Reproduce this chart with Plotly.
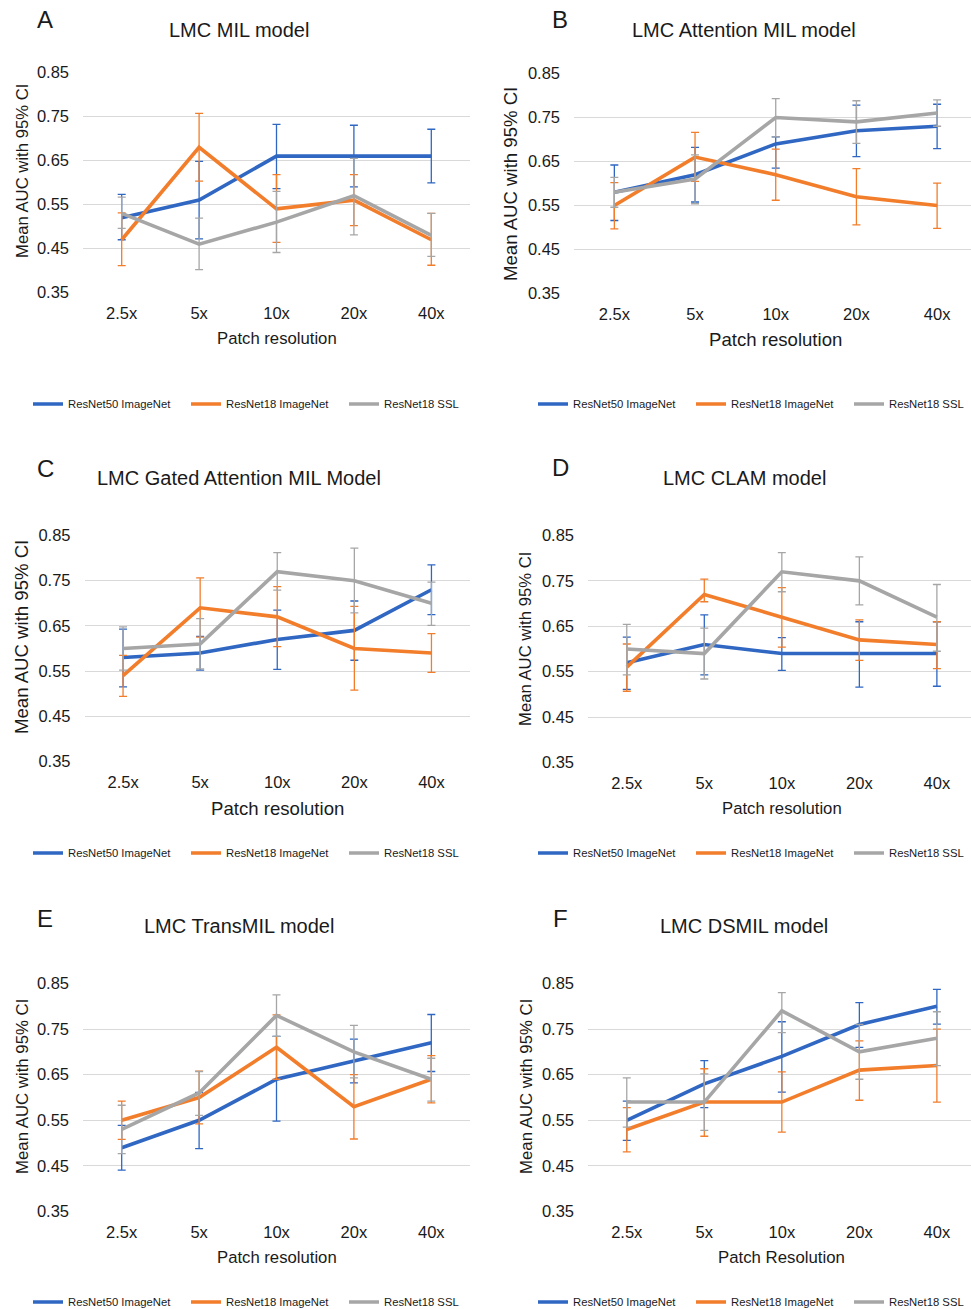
import plotly.graph_objects as go

RES = ["2.5x", "5x", "10x", "20x", "40x"]
SERIES = ["ResNet50 ImageNet", "ResNet18 ImageNet", "ResNet18 SSL"]
COLORS = ["#2F67C3", "#F27D2B", "#A6A6A6"]

# Panel A - LMC MIL model
A_R50 = [0.52, 0.56, 0.66, 0.66, 0.66]
A_R50_HI = [0.573, 0.648, 0.732, 0.730, 0.721]
A_R50_LO = [0.470, 0.472, 0.586, 0.590, 0.599]
A_R18 = [0.47, 0.68, 0.54, 0.56, 0.47]
A_R18_HI = [0.531, 0.757, 0.618, 0.618, 0.530]
A_R18_LO = [0.411, 0.603, 0.464, 0.502, 0.412]
A_SSL = [0.53, 0.46, 0.51, 0.57, 0.48]
A_SSL_HI = [0.567, 0.519, 0.580, 0.655, 0.530]
A_SSL_LO = [0.496, 0.402, 0.441, 0.481, 0.432]

# Panel B - LMC Attention MIL model
B_R50 = [0.58, 0.62, 0.69, 0.72, 0.73]
B_R50_HI = [0.642, 0.682, 0.706, 0.778, 0.780]
B_R50_LO = [0.516, 0.558, 0.635, 0.661, 0.679]
B_R18 = [0.55, 0.66, 0.62, 0.57, 0.55]
B_R18_HI = [0.602, 0.716, 0.678, 0.634, 0.601]
B_R18_LO = [0.497, 0.605, 0.562, 0.506, 0.498]
B_SSL = [0.58, 0.61, 0.75, 0.74, 0.76]
B_SSL_HI = [0.614, 0.665, 0.793, 0.788, 0.790]
B_SSL_LO = [0.546, 0.554, 0.706, 0.691, 0.730]

# Panel C - LMC Gated Attention MIL Model
C_R50 = [0.58, 0.59, 0.62, 0.64, 0.73]
C_R50_HI = [0.643, 0.627, 0.685, 0.705, 0.785]
C_R50_LO = [0.515, 0.552, 0.554, 0.574, 0.675]
C_R18 = [0.54, 0.69, 0.67, 0.60, 0.59]
C_R18_HI = [0.585, 0.756, 0.737, 0.693, 0.633]
C_R18_LO = [0.494, 0.625, 0.604, 0.508, 0.547]
C_SSL = [0.60, 0.61, 0.77, 0.75, 0.70]
C_SSL_HI = [0.648, 0.666, 0.812, 0.822, 0.747]
C_SSL_LO = [0.552, 0.555, 0.729, 0.679, 0.651]

# Panel D - LMC CLAM model
D_R50 = [0.57, 0.61, 0.59, 0.59, 0.59]
D_R50_HI = [0.626, 0.675, 0.625, 0.660, 0.660]
D_R50_LO = [0.511, 0.543, 0.553, 0.516, 0.518]
D_R18 = [0.56, 0.72, 0.67, 0.62, 0.61]
D_R18_HI = [0.611, 0.754, 0.735, 0.664, 0.660]
D_R18_LO = [0.507, 0.704, 0.604, 0.575, 0.557]
D_SSL = [0.60, 0.59, 0.77, 0.75, 0.67]
D_SSL_HI = [0.654, 0.646, 0.812, 0.803, 0.742]
D_SSL_LO = [0.543, 0.534, 0.726, 0.697, 0.595]

# Panel E - LMC TransMIL model
E_R50 = [0.49, 0.55, 0.64, 0.68, 0.72]
E_R50_HI = [0.539, 0.611, 0.734, 0.728, 0.782]
E_R50_LO = [0.441, 0.488, 0.548, 0.632, 0.657]
E_R18 = [0.55, 0.60, 0.71, 0.58, 0.64]
E_R18_HI = [0.592, 0.658, 0.781, 0.650, 0.692]
E_R18_LO = [0.508, 0.542, 0.640, 0.509, 0.588]
E_SSL = [0.53, 0.61, 0.78, 0.70, 0.64]
E_SSL_HI = [0.583, 0.657, 0.825, 0.758, 0.686]
E_SSL_LO = [0.477, 0.561, 0.734, 0.643, 0.592]

# Panel F - LMC DSMIL model
F_R50 = [0.55, 0.63, 0.69, 0.76, 0.80]
F_R50_HI = [0.592, 0.681, 0.766, 0.808, 0.837]
F_R50_LO = [0.506, 0.578, 0.612, 0.710, 0.761]
F_R18 = [0.53, 0.59, 0.59, 0.66, 0.67]
F_R18_HI = [0.578, 0.663, 0.656, 0.724, 0.750]
F_R18_LO = [0.481, 0.515, 0.524, 0.594, 0.590]
F_SSL = [0.59, 0.59, 0.79, 0.70, 0.73]
F_SSL_HI = [0.643, 0.652, 0.830, 0.760, 0.788]
F_SSL_LO = [0.535, 0.528, 0.742, 0.640, 0.670]

Y_TICKS = [0.35, 0.45, 0.55, 0.65, 0.75, 0.85]
Y_LABEL = "Mean AUC with 95% CI"

W, H = 971, 1309
FONT = "Arial, 'Liberation Sans', sans-serif"
TXT = "#1a1a1a"

panels = [
    dict(letter="A", title="LMC MIL model", xlab="Patch resolution",
         data=[(A_R50, A_R50_HI, A_R50_LO), (A_R18, A_R18_HI, A_R18_LO), (A_SSL, A_SSL_HI, A_SSL_LO)],
         x0=83, x1=470, xr=4.5, ytop=72, ybot=293, title_xy=(239, 30), letter_xy=(45, 20),
         ytitle_xy=(22, 171), ysz=16.7, xtitle_y=338, xsz=16.7, leg_xy=(28, 404)),
    dict(letter="B", title="LMC Attention MIL model", xlab="Patch resolution",
         data=[(B_R50, B_R50_HI, B_R50_LO), (B_R18, B_R18_HI, B_R18_LO), (B_SSL, B_SSL_HI, B_SSL_LO)],
         x0=574, x1=971, xr=4.42, ytop=73, ybot=294, title_xy=(744, 30), letter_xy=(560, 20),
         ytitle_xy=(511, 184), ysz=18.6, xtitle_y=340, xsz=18.6, leg_xy=(533, 404)),
    dict(letter="C", title="LMC Gated Attention MIL Model", xlab="Patch resolution",
         data=[(C_R50, C_R50_HI, C_R50_LO), (C_R18, C_R18_HI, C_R18_LO), (C_SSL, C_SSL_HI, C_SSL_LO)],
         x0=84.5, x1=470, xr=4.5, ytop=535, ybot=762, title_xy=(239, 478), letter_xy=(45, 468),
         ytitle_xy=(22, 637), ysz=18.6, xtitle_y=808, xsz=18.6, leg_xy=(28, 853)),
    dict(letter="D", title="LMC CLAM model", xlab="Patch resolution",
         data=[(D_R50, D_R50_HI, D_R50_LO), (D_R18, D_R18_HI, D_R18_LO), (D_SSL, D_SSL_HI, D_SSL_LO)],
         x0=588, x1=971, xr=4.44, ytop=535, ybot=763, title_xy=(744, 478), letter_xy=(560, 467),
         ytitle_xy=(526, 639), ysz=16.7, xtitle_y=808, xsz=16.7, leg_xy=(533, 853)),
    dict(letter="E", title="LMC TransMIL model", xlab="Patch resolution",
         data=[(E_R50, E_R50_HI, E_R50_LO), (E_R18, E_R18_HI, E_R18_LO), (E_SSL, E_SSL_HI, E_SSL_LO)],
         x0=83, x1=470, xr=4.5, ytop=983, ybot=1212, title_xy=(239, 926), letter_xy=(45, 918),
         ytitle_xy=(22, 1087), ysz=16.8, xtitle_y=1257, xsz=16.7, leg_xy=(28, 1302)),
    dict(letter="F", title="LMC DSMIL model", xlab="Patch Resolution",
         data=[(F_R50, F_R50_HI, F_R50_LO), (F_R18, F_R18_HI, F_R18_LO), (F_SSL, F_SSL_HI, F_SSL_LO)],
         x0=588, x1=971, xr=4.44, ytop=983, ybot=1212, title_xy=(744, 926), letter_xy=(560, 918),
         ytitle_xy=(526, 1087), ysz=16.8, xtitle_y=1257, xsz=16.8, leg_xy=(533, 1302)),
]

fig = go.Figure()
annotations = []
layout = {}


def px(x):
    return x / W


def py(y):
    return 1 - y / H


xs = list(range(len(RES)))
for i, p in enumerate(panels, start=1):
    sfx = "" if i == 1 else str(i)
    leg = "legend" if i == 1 else f"legend{i}"
    for k, ((mean, hi, lo), name, col) in enumerate(zip(p["data"], SERIES, COLORS)):
        up = [h - m for h, m in zip(hi, mean)]
        dn = [m - l for m, l in zip(mean, lo)]
        tr = dict(
            x=xs, y=mean, mode="lines", name=name,
            line=dict(color=col, width=3.6),
            error_y=dict(type="data", symmetric=False, array=up, arrayminus=dn,
                         color=col, thickness=1.3, width=4),
            xaxis="x" + sfx, yaxis="y" + sfx, legend=leg, showlegend=True,
        )
        if k < 2:
            tr["legendwidth"] = 113
        fig.add_trace(go.Scatter(**tr))
    layout["xaxis" + sfx] = dict(
        domain=[px(p["x0"]), px(p["x1"])], range=[-0.5, p["xr"]],
        tickmode="array", tickvals=xs, ticktext=RES, showgrid=False,
        zeroline=False, showline=False, ticks="", ticklabelstandoff=8,
        tickfont=dict(size=16.5, color=TXT, family=FONT),
        anchor="y" + sfx, fixedrange=True)
    layout["yaxis" + sfx] = dict(
        domain=[py(p["ybot"]), py(p["ytop"])], range=[0.349, 0.851],
        tickmode="array", tickvals=Y_TICKS, ticktext=[f"{v:.2f}" for v in Y_TICKS],
        showgrid=True, gridcolor="#D9D9D9", gridwidth=1.2, zeroline=False,
        showline=False, ticks="", ticklabelstandoff=13,
        tickfont=dict(size=16.5, color=TXT, family=FONT),
        anchor="x" + sfx, fixedrange=True)
    layout[leg] = dict(
        orientation="h", x=px(p["leg_xy"][0]), y=py(p["leg_xy"][1]),
        xanchor="left", yanchor="middle", xref="paper", yref="paper",
        font=dict(size=11.3, color=TXT, family=FONT), bgcolor="rgba(0,0,0,0)",
        itemclick=False, itemdoubleclick=False, tracegroupgap=0)
    annotations.append(dict(text=p["title"], x=px(p["title_xy"][0]), y=py(p["title_xy"][1]),
                            xref="paper", yref="paper", showarrow=False,
                            xanchor="center", yanchor="middle",
                            font=dict(size=20, color=TXT, family=FONT)))
    annotations.append(dict(text=p["letter"], x=px(p["letter_xy"][0]), y=py(p["letter_xy"][1]),
                            xref="paper", yref="paper", showarrow=False,
                            xanchor="center", yanchor="middle",
                            font=dict(size=24, color=TXT, family=FONT)))
    annotations.append(dict(text=Y_LABEL, x=px(p["ytitle_xy"][0]), y=py(p["ytitle_xy"][1]),
                            xref="paper", yref="paper", showarrow=False, textangle=-90,
                            xanchor="center", yanchor="middle",
                            font=dict(size=p["ysz"], color=TXT, family=FONT)))
    cat_span = 5 * (p["x1"] - p["x0"]) / (p["xr"] + 0.5)
    annotations.append(dict(text=p["xlab"], x=px(p["x0"] + cat_span / 2),
                            y=py(p["xtitle_y"]),
                            xref="paper", yref="paper", showarrow=False,
                            xanchor="center", yanchor="middle",
                            font=dict(size=p["xsz"], color=TXT, family=FONT)))

fig.update_layout(
    width=W, height=H, margin=dict(l=0, r=0, t=0, b=0, autoexpand=False),
    paper_bgcolor="white", plot_bgcolor="white",
    font=dict(family=FONT, color=TXT),
    annotations=annotations, **layout)

fig.write_html("out.html", config={"displayModeBar": False},
               post_script="document.body.style.margin='0px';document.body.style.overflow='hidden';")
